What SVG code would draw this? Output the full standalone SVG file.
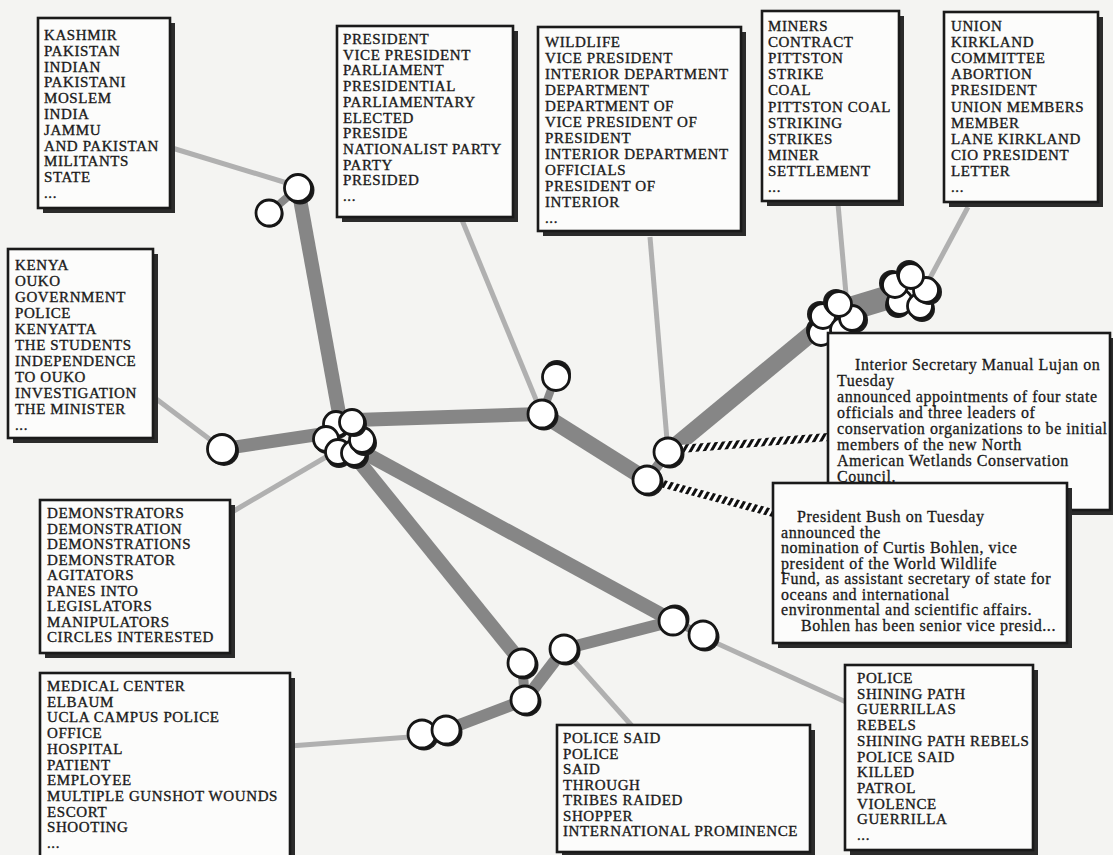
<svg xmlns="http://www.w3.org/2000/svg" width="1113" height="855" viewBox="0 0 1113 855">
<defs>
<style>
.bg{fill:#f4f4f2}
.sh{fill:#2b2b2b}
.bx{fill:#fcfcfb;stroke:#1a1a1a;stroke-width:2.6}
.t{font-family:"Liberation Serif",serif;font-size:15px;letter-spacing:0.6px;fill:#1a1a1a;stroke:#1a1a1a;stroke-width:0.35px}
.p{font-family:"Liberation Serif",serif;font-size:16px;letter-spacing:0.55px;fill:#1a1a1a;stroke:#1a1a1a;stroke-width:0.3px}
.thick{stroke:#868686;fill:none}
.thin{stroke:#b0b0b0;stroke-width:5;fill:none}
.str{stroke:url(#stripe);stroke-width:8;fill:none}
.cs{fill:#1c1c1c}
.cw{fill:#fff;stroke:#161616;stroke-width:2.8}
</style>
<pattern id="stripe" patternUnits="userSpaceOnUse" width="6" height="6" patternTransform="rotate(30)"><rect width="6" height="6" fill="#fff"/><rect width="3" height="6" fill="#111"/></pattern>
</defs>
<rect class="bg" width="1113" height="855"/>

<g id="connectors">
<line class="thin" x1="172" y1="148" x2="287" y2="183"/>
<line class="thin" x1="155" y1="398" x2="212" y2="441"/>
<line class="thin" x1="232" y1="512" x2="326" y2="457"/>
<line class="thin" x1="462" y1="220" x2="537" y2="402"/>
<line class="thin" x1="650" y1="237" x2="667" y2="440"/>
<line class="thin" x1="838" y1="204" x2="846" y2="294"/>
<line class="thin" x1="968" y1="207" x2="930" y2="278"/>
<line class="thin" x1="290" y1="746" x2="410" y2="737"/>
<line class="thin" x1="575" y1="662" x2="632" y2="726"/>
<line class="thin" x1="714" y1="642" x2="846" y2="702"/>
<line class="thick" stroke-width="8" x1="269" y1="213" x2="298" y2="188"/>
<line class="thick" stroke-width="14" x1="298" y1="188" x2="342" y2="430"/>
<line class="thick" stroke-width="13" x1="222" y1="449" x2="335" y2="432"/>
<line class="thick" stroke-width="14" x1="355" y1="420" x2="542" y2="414"/>
<line class="thick" stroke-width="8" x1="556" y1="376" x2="542" y2="414"/>
<line class="thick" stroke-width="16" x1="542" y1="414" x2="647" y2="480"/>
<line class="thick" stroke-width="10" x1="647" y1="480" x2="668" y2="452"/>
<line class="thick" stroke-width="17" x1="668" y1="452" x2="830" y2="318"/>
<line class="thick" stroke="#7a7a7a" stroke-width="24" x1="840" y1="312" x2="906" y2="292"/>
<line class="thick" stroke-width="14" x1="350" y1="445" x2="673" y2="621"/>
<line class="thick" stroke-width="14" x1="348" y1="448" x2="522" y2="663"/>
<line class="thick" stroke-width="12" x1="564" y1="649" x2="673" y2="621"/>
<line class="thick" stroke-width="12" x1="564" y1="649" x2="525" y2="700"/>
<line class="thick" stroke-width="10" x1="522" y1="663" x2="525" y2="700"/>
<line class="thick" stroke-width="12" x1="525" y1="700" x2="446" y2="730"/>
<line class="thick" stroke-width="8" x1="673" y1="621" x2="703" y2="635"/>
<line class="str" x1="680" y1="449" x2="828" y2="437"/>
<line class="str" x1="660" y1="483" x2="773" y2="513"/>
</g>

<g id="n-c1"><circle class="cs" cx="300" cy="190" r="14.5"/><circle class="cw" cx="298" cy="188" r="13.5"/></g>
<g id="n-c2"><circle class="cs" cx="270" cy="214" r="13.5"/><circle class="cw" cx="269" cy="213" r="13"/></g>
<g id="n-cluster1">
<circle class="cs" cx="337" cy="426" r="13"/><circle class="cw" cx="336" cy="424" r="12.5"/>
<circle class="cs" cx="327" cy="441" r="13"/><circle class="cw" cx="326" cy="439" r="12.5"/>
<circle class="cs" cx="339" cy="455" r="13"/><circle class="cw" cx="338" cy="452" r="12.5"/>
<circle class="cs" cx="356" cy="456" r="13"/><circle class="cw" cx="354" cy="453" r="12.5"/>
<circle class="cs" cx="364" cy="443" r="13"/><circle class="cw" cx="362" cy="440" r="12.5"/>
<circle class="cs" cx="354" cy="424" r="13"/><circle class="cw" cx="352" cy="422" r="12.5"/>
</g>
<g id="n-kenya"><circle class="cs" cx="224" cy="451" r="15"/><circle class="cw" cx="222" cy="449" r="14.5"/></g>
<g id="n-pres2"><circle class="cs" cx="557" cy="374" r="14"/><circle class="cw" cx="556" cy="377" r="13.5"/></g>
<g id="n-pres"><circle class="cs" cx="544" cy="416" r="14.5"/><circle class="cw" cx="542" cy="414" r="14"/></g>
<g id="n-wild"><circle class="cs" cx="670" cy="454" r="14.5"/><circle class="cw" cx="668" cy="452" r="14"/></g>
<g id="n-mid"><circle class="cs" cx="649" cy="482" r="14.5"/><circle class="cw" cx="647" cy="480" r="14"/></g>
<g id="n-sp1"><circle class="cs" cx="675" cy="619" r="14.5"/><circle class="cw" cx="673" cy="621" r="14"/></g>
<g id="n-sp2"><circle class="cs" cx="705" cy="637" r="14.5"/><circle class="cw" cx="703" cy="635" r="14"/></g>
<g id="n-b1"><circle class="cs" cx="524" cy="665" r="14.5"/><circle class="cw" cx="522" cy="663" r="14"/></g>
<g id="n-b2"><circle class="cs" cx="566" cy="651" r="14.5"/><circle class="cw" cx="564" cy="649" r="14"/></g>
<g id="n-b3"><circle class="cs" cx="527" cy="702" r="14.5"/><circle class="cw" cx="525" cy="700" r="14"/></g>
<g id="n-med"><circle class="cs" cx="424" cy="736" r="14.5"/><circle class="cw" cx="422" cy="734" r="14"/><circle class="cs" cx="448" cy="732" r="14.5"/><circle class="cw" cx="446" cy="730" r="14"/></g>
<g id="n-cluster2">
<circle class="cs" cx="819" cy="330" r="13"/><circle class="cw" cx="821" cy="333" r="12.5"/>
<circle class="cs" cx="820" cy="314" r="13"/><circle class="cw" cx="823" cy="316" r="12.5"/>
<circle class="cs" cx="845" cy="333" r="13"/><circle class="cw" cx="843" cy="330" r="12.5"/>
<circle class="cs" cx="855" cy="320" r="13"/><circle class="cw" cx="852" cy="318" r="12.5"/>
<circle class="cs" cx="836" cy="302" r="13"/><circle class="cw" cx="839" cy="304" r="12.5"/>
</g>
<g id="n-cluster3">
<circle class="cs" cx="898" cy="305" r="13"/><circle class="cw" cx="900" cy="302" r="12.5"/>
<circle class="cs" cx="892" cy="283" r="13"/><circle class="cw" cx="895" cy="285" r="12.5"/>
<circle class="cs" cx="922" cy="309" r="13"/><circle class="cw" cx="920" cy="306" r="12.5"/>
<circle class="cs" cx="929" cy="292" r="13"/><circle class="cw" cx="926" cy="290" r="12.5"/>
<circle class="cs" cx="909" cy="273" r="13"/><circle class="cw" cx="911" cy="276" r="12.5"/>
</g>

<g id="box-kashmir">
<rect class="sh" x="43" y="23" width="132" height="190"/>
<rect class="bx" x="38" y="18" width="132" height="190"/>
<text class="t"><tspan x="44" y="40">KASHMIR</tspan><tspan x="44" y="55.8">PAKISTAN</tspan><tspan x="44" y="71.6">INDIAN</tspan><tspan x="44" y="87.4">PAKISTANI</tspan><tspan x="44" y="103.2">MOSLEM</tspan><tspan x="44" y="119">INDIA</tspan><tspan x="44" y="134.8">JAMMU</tspan><tspan x="44" y="150.6">AND PAKISTAN</tspan><tspan x="44" y="166.4">MILITANTS</tspan><tspan x="44" y="182.2">STATE</tspan><tspan x="44" y="198">...</tspan></text>
</g>
<g id="box-president">
<rect class="sh" x="342" y="31" width="176" height="191"/>
<rect class="bx" x="337" y="26" width="176" height="191"/>
<text class="t"><tspan x="343" y="44">PRESIDENT</tspan><tspan x="343" y="59.7">VICE PRESIDENT</tspan><tspan x="343" y="75.4">PARLIAMENT</tspan><tspan x="343" y="91.1">PRESIDENTIAL</tspan><tspan x="343" y="106.8">PARLIAMENTARY</tspan><tspan x="343" y="122.5">ELECTED</tspan><tspan x="343" y="138.2">PRESIDE</tspan><tspan x="343" y="153.9">NATIONALIST PARTY</tspan><tspan x="343" y="169.6">PARTY</tspan><tspan x="343" y="185.3">PRESIDED</tspan><tspan x="343" y="201">...</tspan></text>
</g>
<g id="box-wildlife">
<rect class="sh" x="543" y="32" width="203" height="204"/>
<rect class="bx" x="538" y="27" width="203" height="204"/>
<text class="t"><tspan x="545" y="47">WILDLIFE</tspan><tspan x="545" y="63">VICE PRESIDENT</tspan><tspan x="545" y="79">INTERIOR DEPARTMENT</tspan><tspan x="545" y="95">DEPARTMENT</tspan><tspan x="545" y="111">DEPARTMENT OF</tspan><tspan x="545" y="127">VICE PRESIDENT OF</tspan><tspan x="545" y="143">PRESIDENT</tspan><tspan x="545" y="159">INTERIOR DEPARTMENT</tspan><tspan x="545" y="175">OFFICIALS</tspan><tspan x="545" y="191">PRESIDENT OF</tspan><tspan x="545" y="207">INTERIOR</tspan><tspan x="545" y="223">...</tspan></text>
</g>
<g id="box-miners">
<rect class="sh" x="767" y="16" width="137" height="190"/>
<rect class="bx" x="762" y="11" width="137" height="190"/>
<text class="t"><tspan x="768" y="31">MINERS</tspan><tspan x="768" y="47.1">CONTRACT</tspan><tspan x="768" y="63.2">PITTSTON</tspan><tspan x="768" y="79.3">STRIKE</tspan><tspan x="768" y="95.4">COAL</tspan><tspan x="768" y="111.5">PITTSTON COAL</tspan><tspan x="768" y="127.6">STRIKING</tspan><tspan x="768" y="143.7">STRIKES</tspan><tspan x="768" y="159.8">MINER</tspan><tspan x="768" y="175.9">SETTLEMENT</tspan><tspan x="768" y="192">...</tspan></text>
</g>
<g id="box-union">
<rect class="sh" x="949" y="17" width="154" height="190"/>
<rect class="bx" x="944" y="12" width="154" height="190"/>
<text class="t"><tspan x="951" y="31">UNION</tspan><tspan x="951" y="47.1">KIRKLAND</tspan><tspan x="951" y="63.2">COMMITTEE</tspan><tspan x="951" y="79.3">ABORTION</tspan><tspan x="951" y="95.4">PRESIDENT</tspan><tspan x="951" y="111.5">UNION MEMBERS</tspan><tspan x="951" y="127.6">MEMBER</tspan><tspan x="951" y="143.7">LANE KIRKLAND</tspan><tspan x="951" y="159.8">CIO PRESIDENT</tspan><tspan x="951" y="175.9">LETTER</tspan><tspan x="951" y="192">...</tspan></text>
</g>
<g id="box-kenya">
<rect class="sh" x="13" y="254" width="145" height="189"/>
<rect class="bx" x="8" y="249" width="145" height="189"/>
<text class="t"><tspan x="15" y="270">KENYA</tspan><tspan x="15" y="286">OUKO</tspan><tspan x="15" y="302">GOVERNMENT</tspan><tspan x="15" y="318">POLICE</tspan><tspan x="15" y="334">KENYATTA</tspan><tspan x="15" y="350">THE STUDENTS</tspan><tspan x="15" y="366">INDEPENDENCE</tspan><tspan x="15" y="382">TO OUKO</tspan><tspan x="15" y="398">INVESTIGATION</tspan><tspan x="15" y="414">THE MINISTER</tspan><tspan x="15" y="430">...</tspan></text>
</g>
<g id="box-demonstrators">
<rect class="sh" x="45" y="505" width="190" height="153"/>
<rect class="bx" x="40" y="500" width="190" height="153"/>
<text class="t"><tspan x="47" y="518">DEMONSTRATORS</tspan><tspan x="47" y="533.5">DEMONSTRATION</tspan><tspan x="47" y="549">DEMONSTRATIONS</tspan><tspan x="47" y="564.5">DEMONSTRATOR</tspan><tspan x="47" y="580">AGITATORS</tspan><tspan x="47" y="595.5">PANES INTO</tspan><tspan x="47" y="611">LEGISLATORS</tspan><tspan x="47" y="626.5">MANIPULATORS</tspan><tspan x="47" y="642">CIRCLES INTERESTED</tspan></text>
</g>
<g id="box-medical">
<rect class="sh" x="45" y="678" width="250" height="200"/>
<rect class="bx" x="40" y="673" width="250" height="200"/>
<text class="t"><tspan x="47" y="691">MEDICAL CENTER</tspan><tspan x="47" y="706.7">ELBAUM</tspan><tspan x="47" y="722.4">UCLA CAMPUS POLICE</tspan><tspan x="47" y="738.1">OFFICE</tspan><tspan x="47" y="753.8">HOSPITAL</tspan><tspan x="47" y="769.5">PATIENT</tspan><tspan x="47" y="785.2">EMPLOYEE</tspan><tspan x="47" y="800.9">MULTIPLE GUNSHOT WOUNDS</tspan><tspan x="47" y="816.6">ESCORT</tspan><tspan x="47" y="832.3">SHOOTING</tspan><tspan x="47" y="848">...</tspan></text>
</g>
<g id="box-policesaid">
<rect class="sh" x="562" y="730" width="253" height="127"/>
<rect class="bx" x="557" y="725" width="253" height="127"/>
<text class="t"><tspan x="563" y="743">POLICE SAID</tspan><tspan x="563" y="758.5">POLICE</tspan><tspan x="563" y="774">SAID</tspan><tspan x="563" y="789.5">THROUGH</tspan><tspan x="563" y="805">TRIBES RAIDED</tspan><tspan x="563" y="820.5">SHOPPER</tspan><tspan x="563" y="836">INTERNATIONAL PROMINENCE</tspan></text>
</g>
<g id="box-shiningpath">
<rect class="sh" x="850" y="670" width="188" height="185"/>
<rect class="bx" x="845" y="665" width="188" height="185"/>
<text class="t"><tspan x="857" y="683">POLICE</tspan><tspan x="857" y="698.7">SHINING PATH</tspan><tspan x="857" y="714.4">GUERRILLAS</tspan><tspan x="857" y="730.1">REBELS</tspan><tspan x="857" y="745.8">SHINING PATH REBELS</tspan><tspan x="857" y="761.5">POLICE SAID</tspan><tspan x="857" y="777.2">KILLED</tspan><tspan x="857" y="792.9">PATROL</tspan><tspan x="857" y="808.6">VIOLENCE</tspan><tspan x="857" y="824.3">GUERRILLA</tspan><tspan x="857" y="840">...</tspan></text>
</g>
<g id="box-interior">
<rect class="sh" x="833" y="338" width="282" height="177"/>
<rect class="bx" x="828" y="333" width="282" height="177"/>
<text class="p"><tspan x="855" y="370">Interior Secretary Manual Lujan on</tspan><tspan x="837" y="386">Tuesday</tspan><tspan x="837" y="402">announced appointments of four state</tspan><tspan x="837" y="418">officials and three leaders of</tspan><tspan x="837" y="434">conservation organizations to be initial</tspan><tspan x="837" y="450">members of the new North</tspan><tspan x="837" y="466">American Wetlands Conservation</tspan><tspan x="837" y="482">Council.</tspan></text>
</g>
<g id="box-bush">
<rect class="sh" x="778" y="488" width="294" height="160"/>
<rect class="bx" x="773" y="483" width="294" height="160"/>
<text class="p"><tspan x="797" y="522">President Bush on Tuesday</tspan><tspan x="781" y="537.5">announced  the</tspan><tspan x="781" y="553">nomination of Curtis Bohlen, vice</tspan><tspan x="781" y="568.5">president of the World Wildlife</tspan><tspan x="781" y="584">Fund, as assistant secretary of state for</tspan><tspan x="781" y="599.5">oceans  and  international</tspan><tspan x="781" y="615">environmental and scientific affairs.</tspan><tspan x="801" y="630.5">Bohlen has been senior vice presid...</tspan></text>
</g>
</svg>
